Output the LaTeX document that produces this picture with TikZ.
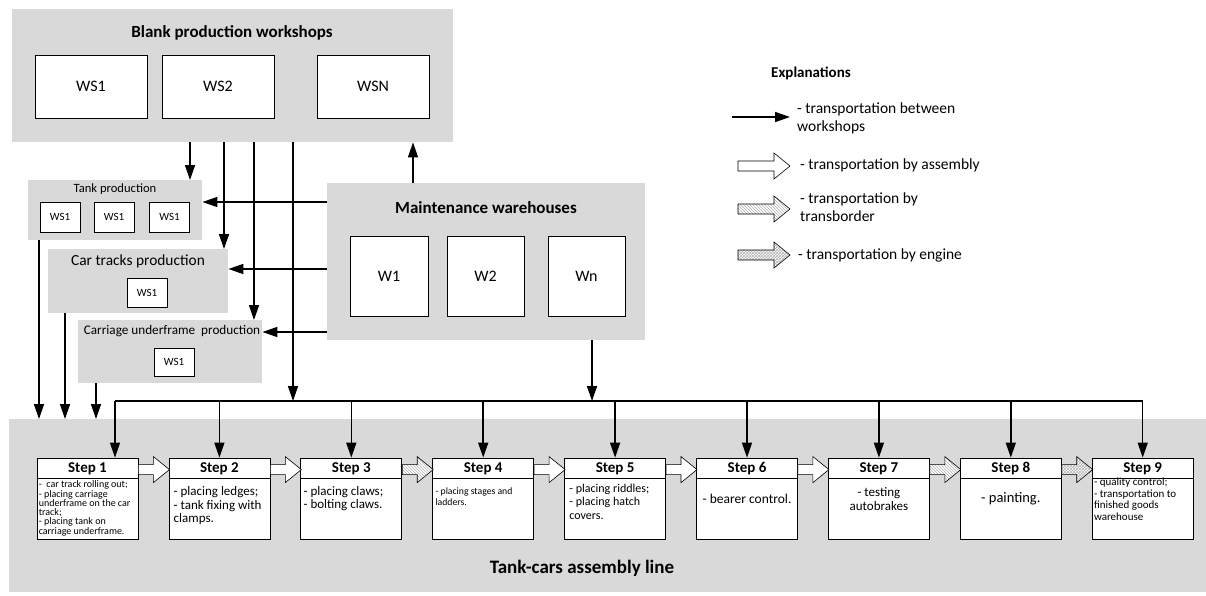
\documentclass[tikz,border=0pt]{standalone}
\usepackage{fontspec}
\setmainfont{Carlito}
\usetikzlibrary{arrows.meta,patterns}
\definecolor{panel}{HTML}{D9D9D9}
\newcommand{\fs}[2]{\fontsize{#1}{#2}\selectfont}
\newcommand{\flowarr}[3][]{\draw[line width=0.6pt,#1] #2 -- ++(#3,0) -- ++(0,-8) -- ++(16,13) -- ++(-16,13) -- ++(0,-8) -- ++(-#3,0) -- cycle;}
\tikzset{
	grp/.style={fill=panel,inner sep=0pt,anchor=north west},
	wbox/.style={draw,fill=white,line width=0.8pt,inner sep=0pt},
	wire/.style={line width=1.5pt,-{Triangle[length=15pt,width=10pt]}},
	assy/.style={fill=white},
	trans/.style={preaction={fill=white},pattern=north west lines,pattern color=gray!60},
	engine/.style={preaction={fill=white},pattern=crosshatch,pattern color=gray!60}
}
\begin{document}
\begin{tikzpicture}[x=1pt,y=-1pt]
	\useasboundingbox (0,0) rectangle (1206,595);
	\node[grp,minimum width=441pt,minimum height=133pt] (bpw) at (12,9) {};
	\node[font=\bfseries\fs{17}{20}] at (232,33) {Blank production workshops};
	\node[wbox,minimum width=112pt,minimum height=63pt,font=\fs{16}{18}] (ws1) at (91,86.5) {WS1};
	\node[wbox,minimum width=112pt,minimum height=63pt,font=\fs{16}{18}] (ws2) at (218,86.5) {WS2};
	\node[wbox,minimum width=112pt,minimum height=63pt,font=\fs{16}{18}] (wsn) at (373,86.5) {WSN};
	\node[grp,minimum width=174pt,minimum height=60pt] (tankp) at (28,180) {};
	\node[font=\fs{12.6}{14}] at (115,189) {Tank production};
	\node[wbox,minimum width=40pt,minimum height=30pt,font=\fs{11}{13}] (t1) at (60,217) {WS1};
	\node[wbox,minimum width=40pt,minimum height=30pt,font=\fs{11}{13}] (t2) at (114,217) {WS1};
	\node[wbox,minimum width=40pt,minimum height=30pt,font=\fs{11}{13}] (t3) at (169.5,217) {WS1};
	\node[grp,minimum width=180pt,minimum height=64pt] (carp) at (48,249) {};
	\node[font=\fs{15.4}{17}] at (138,261) {Car tracks production};
	\node[wbox,minimum width=40pt,minimum height=29pt,font=\fs{11}{13}] (c1) at (147,292.5) {WS1};
	\node[grp,minimum width=184pt,minimum height=63pt] (carrp) at (78,320) {};
	\node[font=\fs{13.2}{15}] at (172,331) {Carriage underframe\ \ production};
	\node[wbox,minimum width=40pt,minimum height=28pt,font=\fs{11}{13}] (u1) at (174,362) {WS1};
	\node[grp,minimum width=318pt,minimum height=157pt] (mw) at (327,183) {};
	\node[font=\bfseries\fs{17}{20}] at (486,208) {Maintenance warehouses};
	\node[wbox,minimum width=78pt,minimum height=80pt,font=\fs{16}{18}] (w1) at (389,276) {W1};
	\node[wbox,minimum width=77pt,minimum height=80pt,font=\fs{16}{18}] (w2) at (485.5,276) {W2};
	\node[wbox,minimum width=77pt,minimum height=80pt,font=\fs{16}{18}] (wn) at (586.5,276) {Wn};
	\node[grp,minimum width=1197pt,minimum height=173pt] (line) at (9,419) {};
	\node[font=\bfseries\fs{19}{22}] at (582,568) {Tank-cars assembly line};
	\foreach \i in {1,...,9}{
		\pgfmathsetmacro{\cx}{87.5+131.9*(\i-1)}
		\node[wbox,minimum width=101pt,minimum height=81pt] (s\i) at (\cx,498.5) {};
		\draw[line width=0.8pt] ([yshift=-21pt]s\i.north west) -- ([yshift=-21pt]s\i.north east);
		\node[font=\bfseries\fs{15}{18}] at ([yshift=-11pt]s\i.north) {Step \i};
	}
	\node[anchor=north west,align=left,inner sep=0pt,font=\fs{10}{9.3}] at ([xshift=2pt,yshift=-23pt]s1.north west) {-\ \ car track rolling out;\\- placing carriage\\underframe on the car\\track;\\- placing tank on\\carriage underframe.};
	\node[anchor=north west,align=left,inner sep=0pt,font=\fs{13}{13.5}] at ([xshift=5pt,yshift=-29pt]s2.north west) {- placing ledges;\\- tank fixing with\\clamps.};
	\node[anchor=north west,align=left,inner sep=0pt,font=\fs{13}{12.5}] at ([xshift=3pt,yshift=-29pt]s3.north west) {- placing claws;\\- bolting claws.};
	\node[anchor=north west,align=left,inner sep=0pt,font=\fs{9.7}{11}] at ([xshift=3pt,yshift=-30pt]s4.north west) {- placing stages and\\ladders.};
	\node[anchor=north west,align=left,inner sep=0pt,font=\fs{12}{13.5}] at ([xshift=5pt,yshift=-26pt]s5.north west) {- placing riddles;\\- placing hatch\\covers.};
	\node[font=\fs{13.5}{15}] at ([yshift=-41pt]s6.north) {- bearer control.};
	\node[align=center,inner sep=0pt,font=\fs{13}{14}] at ([yshift=-41pt]s7.north) {- testing\\autobrakes};
	\node[font=\fs{14.5}{17}] at ([yshift=-41pt]s8.north) {- painting.};
	\node[anchor=north west,align=left,inner sep=0pt,font=\fs{11}{11.7}] at ([xshift=2pt,yshift=-20pt]s9.north west) {- quality control;\\- transportation to\\finished goods\\warehouse};
	\foreach \i/\j/\k in {1/2/assy,2/3/assy,3/4/trans,4/5/assy,5/6/assy,6/7/assy,7/8/trans,8/9/engine}{
		\flowarr[\k]{([yshift=-7pt]s\i.north east)}{15}
	}
	\coordinate (busL) at (115,401);
	\draw[line width=2pt] (busL) -- (s9.north |- busL);
	\draw[wire] (busL) -- (busL |- s1.north);
	\foreach \i in {2,...,9}
		\draw[wire] (s\i.north |- busL) -- (s\i.north);
	\draw[wire] ([xshift=178pt]bpw.south west) -- ([xshift=178pt]bpw.south west |- tankp.north);
	\draw[wire] ([xshift=212pt]bpw.south west) -- ([xshift=212pt]bpw.south west |- carp.north);
	\draw[wire] ([xshift=242pt]bpw.south west) -- ([xshift=242pt]bpw.south west |- carrp.north);
	\draw[wire] ([xshift=281pt]bpw.south west) -- ([xshift=281pt]bpw.south west |- busL);
	\draw[wire] ([xshift=86pt]mw.north west) -- ([xshift=86pt]mw.north west |- bpw.south);
	\draw[wire] ([xshift=265pt]mw.south west) -- ([xshift=265pt]mw.south west |- busL);
	\draw[wire] ([yshift=-19pt]mw.north west) -- ([yshift=-19pt]mw.north west -| tankp.east);
	\draw[wire] ([yshift=-86pt]mw.north west) -- ([yshift=-86pt]mw.north west -| carp.east);
	\draw[wire] ([yshift=-149pt]mw.north west) -- ([yshift=-149pt]mw.north west -| carrp.east);
	\draw[wire] ([xshift=11pt]tankp.south west) -- ([xshift=11pt]tankp.south west |- line.north);
	\draw[wire] ([xshift=17pt]carp.south west) -- ([xshift=17pt]carp.south west |- line.north);
	\draw[wire] ([xshift=18pt]carrp.south west) -- ([xshift=18pt]carrp.south west |- line.north);
	\node[font=\bfseries\fs{15}{17}] (expl) at (811,73) {Explanations};
	\coordinate (k1) at (732,117);
	\coordinate (k1e) at (790,117);
	\draw[wire] (k1) -- (k1e);
	\node[anchor=west,align=left,inner sep=0pt,font=\fs{15.5}{18.5}] (t1) at (797,118.5) {- transportation between\\workshops};
	\coordinate (k2) at (738,161);
	\coordinate (k3) at (738,204);
	\coordinate (k4) at (738,250);
	\flowarr[assy]{(k2)}{36}
	\flowarr[trans]{(k3)}{36}
	\flowarr[engine]{(k4)}{36}
	\node[anchor=west,inner sep=0pt,font=\fs{15.5}{18}] (t2) at (800,165) {- transportation by assembly};
	\node[anchor=west,align=left,inner sep=0pt,font=\fs{15.5}{18.5}] (t3) at (800,207) {- transportation by\\transborder};
	\node[anchor=west,inner sep=0pt,font=\fs{15.5}{18}] (t4) at (798,255) {- transportation by engine};
\end{tikzpicture}
\end{document}
